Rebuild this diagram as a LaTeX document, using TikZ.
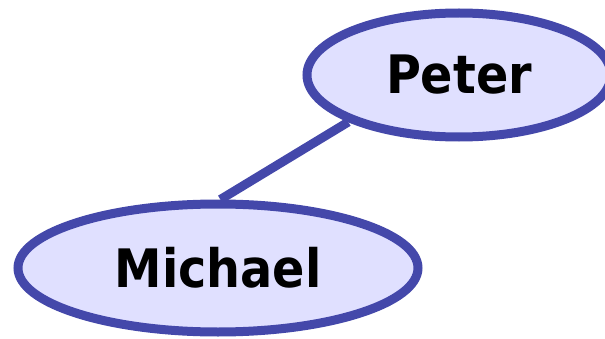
\documentclass[tikz,border=0pt]{standalone}
\usepackage{fontspec}
\setmainfont{DejaVu Sans Condensed}[BoldFont={DejaVu Sans Condensed Bold}]
\usetikzlibrary{shapes.geometric}
\pgfdeclarelayer{background}
\pgfsetlayers{background,main}
\definecolor{edgeblue}{RGB}{68,72,170}
\definecolor{nodefill}{RGB}{224,224,255}
\tikzset{
  person/.style={ellipse, draw=edgeblue, fill=nodefill, line width=9pt,
    inner sep=0pt, font=\bfseries\fontsize{53}{60}\selectfont},
  link/.style={draw=edgeblue, line width=9pt}
}
\begin{document}
\begin{tikzpicture}[x=1pt,y=1pt]
  \useasboundingbox (0,0) rectangle (605,338);
  \node[person, minimum width=304pt, minimum height=124pt] (peter) at (459,263) {Peter};
  \node[person, minimum width=400pt, minimum height=128pt] (michael) at (218,70) {Michael};
  \begin{pgfonlayer}{background}
    \draw[link] (peter.203) -- (michael.88);
  \end{pgfonlayer}
\end{tikzpicture}
\end{document}
